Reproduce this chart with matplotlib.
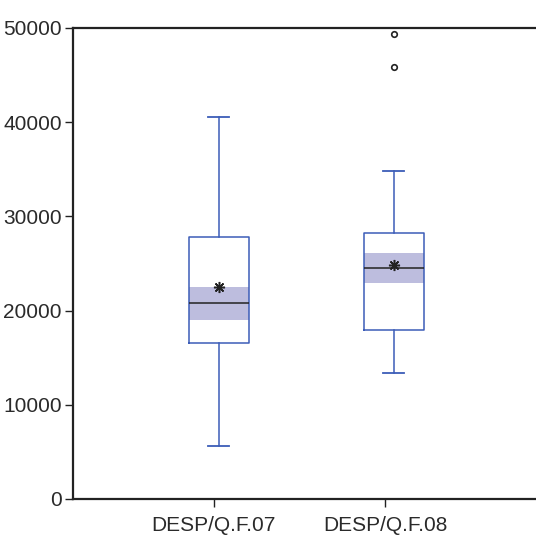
import numpy as np
import matplotlib.pyplot as plt

plt.rcParams['font.family'] = ['Liberation Sans Narrow', 'Liberation Sans', 'DejaVu Sans']

# data
labels = ['DESP/Q.F.07', 'DESP/Q.F.08']
whislo = [5630, 13380]
q1 = [16560, 17940]
med = [20810, 24520]
q3 = [27810, 28240]
whishi = [40550, 34820]
means = [22500, 24840]
ci_lo = [19000, 22930]
ci_hi = [22500, 26110]
outliers = [[], [45860, 49360]]

positions = [1, 2]
box_blue = '#3C5DB8'
shade = '#BDBDDE'

fig = plt.figure(figsize=(5.36, 5.36), dpi=100)
ax = fig.add_axes([73/536, 37/536, 1 - 73/536, 471/536])

# shaded median confidence band
ax.bar(positions, np.array(ci_hi) - np.array(ci_lo), bottom=ci_lo, width=0.343,
       color=shade, edgecolor='none', zorder=1)

stats = []
for i in range(len(labels)):
    stats.append(dict(label=labels[i], whislo=whislo[i], q1=q1[i], med=med[i],
                      q3=q3[i], whishi=whishi[i], mean=means[i], fliers=outliers[i]))

ax.bxp(stats, positions=positions, widths=0.343, capwidths=0.12, showmeans=True,
       boxprops=dict(color=box_blue, linewidth=1.1),
       whiskerprops=dict(color=box_blue, linewidth=1.1),
       capprops=dict(color=box_blue, linewidth=1.3),
       medianprops=dict(color='#222222', linewidth=1.1),
       meanprops=dict(marker=(8, 2, 0), markerfacecolor='#222222', markeredgecolor='#222222',
                      markersize=8, markeredgewidth=1.1),
       flierprops=dict(marker='o', markerfacecolor='white', markeredgecolor='#222222',
                       markersize=4, markeredgewidth=1.2),
       zorder=2)

ax.set_xlim(1 - 146/175, 2 + 142/175)
ax.set_ylim(0, 50000)
ax.set_yticks([0, 10000, 20000, 30000, 40000, 50000])
ax.set_xticks([0.97, 1.95])
ax.set_xticklabels(labels)

for side in ['left', 'top', 'bottom']:
    ax.spines[side].set_color('#222222')
    ax.spines[side].set_linewidth(1.6)
ax.spines['right'].set_visible(False)

ax.tick_params(axis='both', direction='out', length=6, width=1, color='#222222',
               labelsize=15, labelcolor='#2a2a2a')
ax.tick_params(axis='y', pad=2)
ax.tick_params(axis='x', pad=6)

fig.savefig('out.png', dpi=100)
